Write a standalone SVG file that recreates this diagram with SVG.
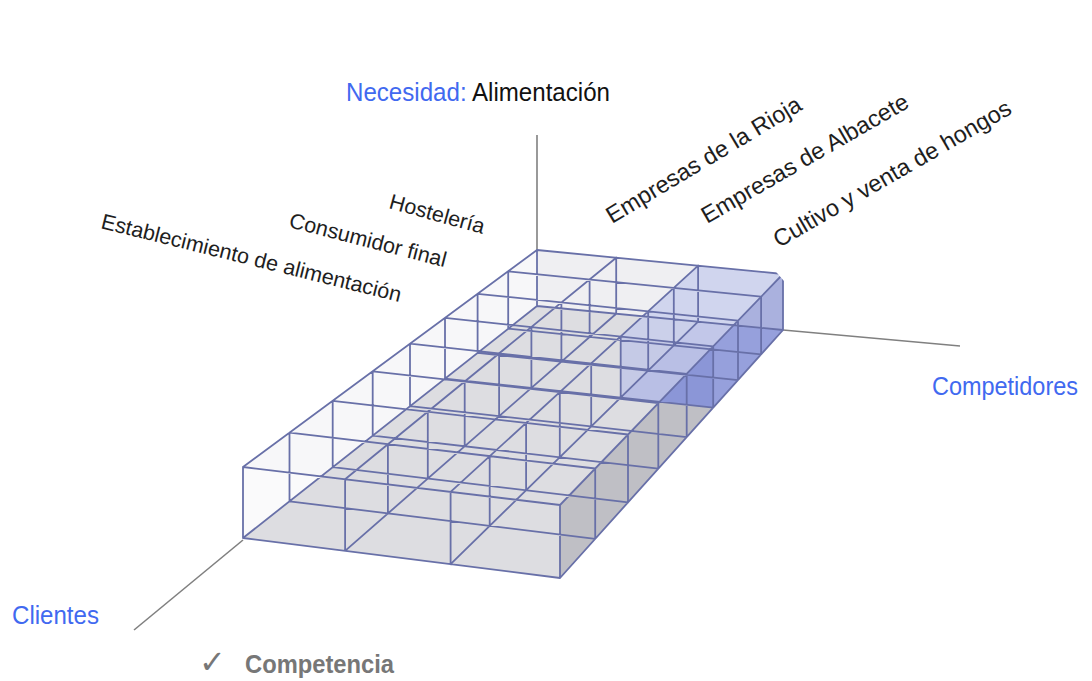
<svg xmlns="http://www.w3.org/2000/svg" width="1092" height="681" viewBox="0 0 1092 681">
<style>
.grid{fill:none;stroke:#6870a8;stroke-width:1.8;stroke-linecap:round}
.axis{fill:none;stroke:#808080;stroke-width:1.6}
.cat{font-family:"Liberation Sans",Arial,sans-serif;font-size:21.5px;fill:#1e1e1e}
.comp{font-family:"Liberation Sans",Arial,sans-serif;font-size:23.5px;fill:#1e1e1e}
.ttl{font-family:"Liberation Sans Narrow","Arial Narrow","Liberation Sans",sans-serif;font-size:26px}
.blue{fill:#4169f0}
</style>
<rect width="1092" height="681" fill="#ffffff"/>

<g id="connectors">
  <line class="axis" x1="537" y1="135" x2="537" y2="250"/>
  <line class="axis" x1="783" y1="330" x2="960" y2="346"/>
  <line class="axis" x1="243" y1="540" x2="134" y2="630"/>
</g>

<g id="cube">
  <!-- floor -->
  <polygon points="243,538 560,578 783,330 537,306" fill="#cfcfd4"/>
  <!-- back wall -->
  <polygon points="537,250 783,274 783,330 537,306" fill="#e6e6ea" opacity="0.6"/>
  <!-- right face -->
  <polygon points="560,505 783,274 783,330 560,578" fill="#bcbcc2" opacity="0.85"/>
  <!-- highlighted block -->
  <g id="highlight">
    <polygon points="620.7,397.6 713.2,407.6 783,330 698.1,321.7" fill="#6676d4" opacity="0.6"/>
    <polygon points="698.1,265.7 783,274 783,330 698.1,321.7" fill="#8b98e2" opacity="0.35"/>
    <polygon points="620.7,336.5 698.1,265.7 698.1,321.7 620.7,397.6" fill="#8b98e2" opacity="0.35"/>
    <polygon points="713.2,346.3 783,274 783,330 713.2,407.6" fill="#a3ade9" opacity="0.5"/>
    <polygon points="620.7,336.5 713.2,346.3 713.2,407.6 620.7,397.6" fill="#8e9be3" opacity="0.45"/>
    <polygon points="620.7,336.5 713.2,346.3 783,274 698.1,265.7" fill="#aab4ec" opacity="0.55"/>
  </g>
  <!-- front face -->
  <polygon points="243,467 560,505 560,578 243,538" fill="#f2f2f5" opacity="0.4"/>
  <!-- top face -->
  <polygon points="243,467 560,505 783,274 537,250" fill="#eeeef2" opacity="0.45"/>

  <path class="grid" d="
    M243,467 L537,250 M345.1,479.2 L616.2,257.7 M450.6,491.9 L698.1,265.7 M560,505 L783,274
    M537,250 L783,274 M508.2,271.3 L761.1,296.6 M477.6,293.8 L738,320.7 M445,317.9 L713.2,346.3
    M410,343.7 L686.7,373.8 M372.7,371.3 L658.3,403.1 M332.7,400.8 L628,434.5 M289.5,432.7 L595.2,468.5
    M243,467 L560,505
    M243,538 L537,306 M345.1,550.9 L616.2,313.7 M450.6,564.2 L698.1,321.7 M560,578 L783,330
    M537,306 L783,330 M508.2,328.7 L761.1,354.3 M477.6,352.9 L738,380.1 M445,378.6 L713.2,407.6
    M410,406.2 L686.7,437.1 M372.7,435.7 L658.3,468.6 M332.7,467.2 L628,502.4 M289.5,501.3 L595.2,538.8
    M243,538 L560,578
    M243,467 V538 M345.1,479.2 V550.9 M450.6,491.9 V564.2 M560,505 V578
    M289.5,432.7 V501.3 M387.9,444.2 V513.4 M489.7,456.1 V525.9 M595.2,468.5 V538.8
    M332.7,400.8 V467.2 M427.8,411.7 V478.5 M526.1,422.9 V490.3 M628,434.5 V502.4
    M372.7,371.3 V435.7 M464.7,381.5 V446.3 M559.8,392.1 V457.2 M658.3,403.1 V468.6
    M410,343.7 V406.2 M499.1,353.4 V416.1 M591.2,363.4 V426.4 M686.7,373.8 V437.1
    M445,317.9 V378.6 M531.4,327 V387.9 M620.7,336.5 V397.6 M713.2,346.3 V407.6
    M477.6,293.8 V352.9 M561.4,302.5 V361.7 M648.2,311.4 V370.7 M738,320.7 V380.1
    M508.2,271.3 V328.7 M589.6,279.4 V336.9 M673.8,287.9 V345.5 M761.1,296.6 V354.3
    M537,250 V306 M616.2,257.7 V313.7 M698.1,265.7 V321.7 M783,274 V330"/>
  <!-- label background notch -->
  <polygon points="770,262 774,269.5 784,281 800,281 800,262" fill="#ffffff"/>
</g>

<g id="title">
  <text class="ttl" x="346" y="101" textLength="264" lengthAdjust="spacingAndGlyphs"><tspan class="blue">Necesidad:</tspan><tspan fill="#111111"> Alimentación</tspan></text>
</g>

<g id="axis-competidores">
  <text class="ttl blue" x="932" y="395" textLength="146" lengthAdjust="spacingAndGlyphs">Competidores</text>
</g>
<g id="axis-clientes">
  <text class="ttl blue" x="12" y="624" textLength="87" lengthAdjust="spacingAndGlyphs">Clientes</text>
</g>

<g id="client-hosteleria">
  <text class="cat" x="388" y="208" transform="rotate(15.4 388 208)">Hostelería</text>
</g>
<g id="client-consumidor">
  <text class="cat" x="288" y="227" transform="rotate(14.4 288 227)">Consumidor final</text>
</g>
<g id="client-establecimiento">
  <text class="cat" x="100" y="228" transform="rotate(13.9 100 228)">Establecimiento de alimentación</text>
</g>

<g id="comp-rioja">
  <text class="comp" x="612" y="224" transform="rotate(-31 612 224)">Empresas de la Rioja</text>
</g>
<g id="comp-albacete">
  <text class="comp" x="707" y="224" transform="rotate(-30 707 224)">Empresas de Albacete</text>
</g>
<g id="comp-hongos">
  <text class="comp" x="779" y="248" font-size="24.2" transform="rotate(-30 779 248)">Cultivo y venta de hongos</text>
</g>

<g id="competencia">
  <text x="199" y="673" font-family="DejaVu Sans, sans-serif" font-size="32" fill="#777777">✓</text>
  <text class="ttl" x="245" y="673" font-weight="bold" fill="#777777" textLength="149" lengthAdjust="spacingAndGlyphs">Competencia</text>
</g>
</svg>
